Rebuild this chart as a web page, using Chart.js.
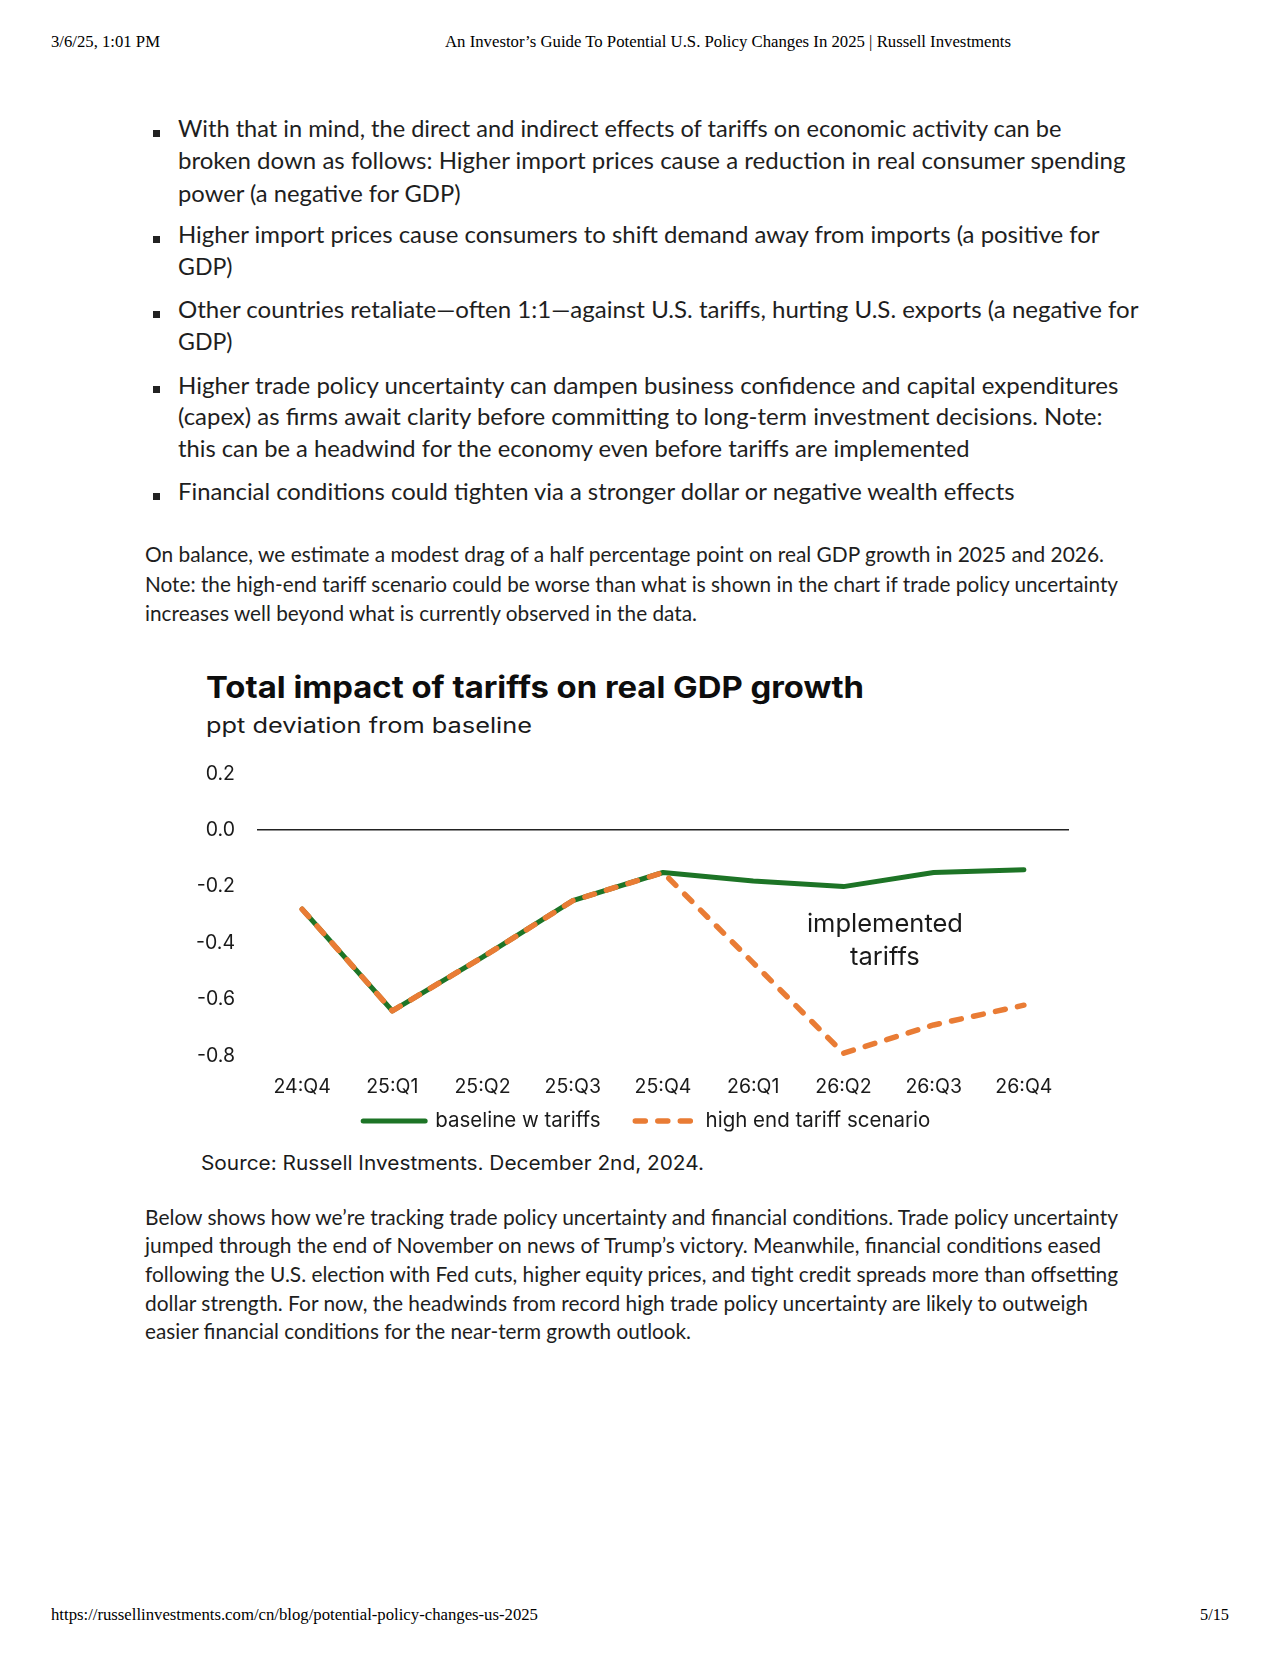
<!DOCTYPE html>
<html>
<head>
<meta charset="utf-8">
<script src="https://cdn.jsdelivr.net/npm/chart.js@4.4.1/dist/chart.umd.min.js"></script>
<style>
html,body{margin:0;padding:0;background:#fff;}
body{width:1280px;height:1656px;position:relative;overflow:hidden;}
.ln{position:absolute;white-space:nowrap;transform-origin:0 50%;}
.sq{position:absolute;width:7px;height:7px;background:#222;}
#wrap{position:absolute;left:180px;top:740px;width:910px;height:400px;}
</style>
</head>
<body>
<div id="wrap"><canvas id="c" width="910" height="400"></canvas></div>
<script>
// ---------- data ----------
const quarters = ['24:Q4','25:Q1','25:Q2','25:Q3','25:Q4','26:Q1','26:Q2','26:Q3','26:Q4'];
const baselineWithTariffs = [-0.28,-0.64,-0.45,-0.25,-0.15,-0.18,-0.20,-0.15,-0.14];
const highEndScenario     = [-0.28,-0.64,-0.45,-0.25,-0.15,-0.47,-0.79,-0.69,-0.62];
const seriesNames = ['baseline w tariffs','high end tariff scenario'];
const yMin = -0.8, yMax = 0.2, yStep = 0.2;
const noteLines = ['implemented','tariffs'];
const noteAt = {x: 6.46, y: -0.39};

// ---------- page text ----------
const fits = [];
function addLine(text, x, cy, w, font, size, weight, color, k){
  const d = document.createElement('div');
  d.className = 'ln';
  d.textContent = text;
  d.style.left = x + 'px';
  d.style.top = (cy - k*size).toFixed(1) + 'px';
  d.style.fontFamily = font;
  d.style.fontSize = size + 'px';
  d.style.fontWeight = weight;
  d.style.color = color;
  d.style.lineHeight = (size*1.2).toFixed(2) + 'px';
  document.body.appendChild(d);
  if (w) fits.push([d, w]);
  return d;
}
function fit(){
  fits.forEach(([d,w])=>{
    d.style.transform = 'none';
    const nat = d.getBoundingClientRect().width;
    d.style.transform = 'scaleX(' + (w/nat).toFixed(4) + ')';
  });
}
const SERIF = '"Liberation Serif", "DejaVu Serif", serif';
const BODYF = 'Lato, "Noto Sans", sans-serif';
const CHF = 'Inter, Roboto, sans-serif';

// header / footer
addLine('3/6/25, 1:01 PM', 50.5, 42.5, 109, SERIF, 16, 400, '#000', 0.6375);
addLine('An Investor\u2019s Guide To Potential U.S. Policy Changes In 2025 | Russell Investments', 445, 42.5, 566, SERIF, 16, 400, '#000', 0.6375);
addLine('https://russellinvestments.com/cn/blog/potential-policy-changes-us-2025', 50.5, 1615, 487, SERIF, 16, 400, '#000', 0.6375);
addLine('5/15', 1199.5, 1615, 29, SERIF, 16, 400, '#000', 0.6375);

// bullets
const bullets = [
  ['With that in mind, the direct and indirect effects of tariffs on economic activity can be', 130, 1061, true],
  ['broken down as follows: Higher import prices cause a reduction in real consumer spending', 162, 1125, false],
  ['power (a negative for GDP)', 195.5, 460, false],
  ['Higher import prices cause consumers to shift demand away from imports (a positive for', 236, 1099, true],
  ['GDP)', 268, 232, false],
  ['Other countries retaliate\u2014often 1:1\u2014against U.S. tariffs, hurting U.S. exports (a negative for', 311, 1138, true],
  ['GDP)', 343, 232, false],
  ['Higher trade policy uncertainty can dampen business confidence and capital expenditures', 386.6, 1118, true],
  ['(capex) as firms await clarity before committing to long-term investment decisions. Note:', 418, 1102, false],
  ['this can be a headwind for the economy even before tariffs are implemented', 450, 969, false],
  ['Financial conditions could tighten via a stronger dollar or negative wealth effects', 493.3, 1014, true]
];
bullets.forEach(([t, cy, right, sq])=>{
  addLine(t, 177.5, cy, right - 177.5, BODYF, 23, 400, '#1e1e1e', 0.657);
  if (sq){
    const s = document.createElement('div');
    s.className = 'sq';
    s.style.left = '152.5px';
    s.style.top = (cy + 3 - 3.5) + 'px';
    document.body.appendChild(s);
  }
});

// paragraphs
const para1 = [
  ['On balance, we estimate a modest drag of a half percentage point on real GDP growth in 2025 and 2026.', 555.5, 1104],
  ['Note: the high-end tariff scenario could be worse than what is shown in the chart if trade policy uncertainty', 585, 1118],
  ['increases well beyond what is currently observed in the data.', 614, 697]
];
const para2 = [
  ['Below shows how we\u2019re tracking trade policy uncertainty and financial conditions. Trade policy uncertainty', 1218, 1118],
  ['jumped through the end of November on news of Trump\u2019s victory. Meanwhile, financial conditions eased', 1246.5, 1101],
  ['following the U.S. election with Fed cuts, higher equity prices, and tight credit spreads more than offsetting', 1275.5, 1118],
  ['dollar strength. For now, the headwinds from record high trade policy uncertainty are likely to outweigh', 1304, 1088],
  ['easier financial conditions for the near-term growth outlook.', 1332.5, 691]
];
para1.concat(para2).forEach(([t, cy, right])=>{
  addLine(t, 145, cy, right - 145, BODYF, 20.5, 400, '#1e1e1e', 0.657);
});

// chart heading + source
addLine('Total impact of tariffs on real GDP growth', 206, 687, 658, CHF, 30, 700, '#0d0d0d', 0.603);
addLine('ppt deviation from baseline', 206, 725.8, 326, CHF, 21, 400, '#1a1a1a', 0.603);
addLine('Source: Russell Investments. December 2nd, 2024.', 201, 1164, 503, CHF, 19.5, 400, '#1a1a1a', 0.603);
fit();
if (document.fonts && document.fonts.ready) document.fonts.ready.then(fit);

// ---------- chart ----------
const GREEN = '#1d7426';
const ORANGE = '#e97c35';

const notePlugin = {
  id: 'note',
  afterDatasetsDraw(chart){
    const {ctx, scales:{x, y}} = chart;
    const px = x.getPixelForValue(noteAt.x);
    const py = y.getPixelForValue(noteAt.y);
    ctx.save();
    ctx.font = '400 25.5px ' + CHF;
    ctx.fillStyle = '#1a1a1a';
    ctx.textAlign = 'center';
    ctx.textBaseline = 'middle';
    const gap = 33;
    noteLines.forEach((t, i)=>{
      ctx.fillText(t, px, py + 1 + (i - (noteLines.length-1)/2)*gap);
    });
    ctx.restore();
  }
};

// legend drawn under the axis labels (line sample + text per dataset)
const legendPlugin = {
  id: 'lineLegend',
  afterDraw(chart){
    const {ctx, chartArea} = chart;
    const cy = chartArea.bottom + 65;
    const fontSize = 20.5;
    const sampleLen = [62, 55];
    const textGap = [7.5, 12.5];
    const itemGap = 32;
    ctx.save();
    ctx.font = '400 ' + fontSize + 'px ' + CHF;
    const items = chart.data.datasets.map((ds, i)=>{
      const cap = ds.borderWidth/2;
      const tw = ctx.measureText(ds.label).width;
      return {ds, len: sampleLen[i], cap, tw, gap: textGap[i],
              total: sampleLen[i] + 2*cap + textGap[i] + tw};
    });
    const totalW = items.reduce((s, it)=>s + it.total, 0) + itemGap*(items.length-1);
    let x = (chartArea.left + chartArea.right)/2 - 17.5 - totalW/2;
    items.forEach(it=>{
      const ds = it.ds;
      ctx.beginPath();
      ctx.lineWidth = ds.borderWidth;
      ctx.strokeStyle = ds.borderColor;
      ctx.lineCap = ds.borderCapStyle || 'butt';
      ctx.setLineDash(ds.borderDash || []);
      ctx.moveTo(x + it.cap, cy);
      ctx.lineTo(x + it.cap + it.len, cy);
      ctx.stroke();
      ctx.setLineDash([]);
      const tx = x + it.len + 2*it.cap + it.gap;
      ctx.fillStyle = '#1a1a1a';
      ctx.textAlign = 'left';
      ctx.textBaseline = 'middle';
      ctx.fillText(ds.label, tx, cy);
      x += it.total + itemGap;
    });
    ctx.restore();
  }
};

new Chart(document.getElementById('c'), {
  type: 'line',
  data: {
    labels: quarters,
    datasets: [
      {
        label: seriesNames[0],
        data: baselineWithTariffs,
        borderColor: GREEN,
        backgroundColor: GREEN,
        borderWidth: 5,
        borderCapStyle: 'round',
        borderJoinStyle: 'round',
        pointRadius: 0,
        tension: 0,
        order: 1
      },
      {
        label: seriesNames[1],
        data: highEndScenario,
        borderColor: ORANGE,
        backgroundColor: ORANGE,
        borderWidth: 5.5,
        borderDash: [10, 12.5],
        borderCapStyle: 'round',
        borderJoinStyle: 'round',
        pointRadius: 0,
        tension: 0,
        order: 0
      }
    ]
  },
  options: {
    responsive: false,
    animation: false,
    devicePixelRatio: 1,
    layout: {padding: {left: 0, right: 21, top: 33, bottom: 0}},
    plugins: {
      title: {display: false},
      tooltip: {enabled: false},
      legend: {display: false}
    },
    scales: {
      x: {
        offset: true,
        grid: {display: false, drawTicks: false},
        border: {display: false},
        ticks: {color: '#1a1a1a', font: {family: CHF, size: 19.5}, padding: 19, maxRotation: 0, autoSkip: false},
        afterFit(s){ s.height = 84; }
      },
      y: {
        min: yMin,
        max: yMax,
        border: {display: false},
        grid: {
          drawTicks: false,
          lineWidth: 1.5,
          color: (c) => (c.tick && Math.abs(c.tick.value) < 1e-9) ? '#222' : 'rgba(0,0,0,0)'
        },
        ticks: {
          stepSize: yStep,
          padding: 22,
          color: '#1a1a1a',
          font: {family: CHF, size: 19.5},
          callback: (v) => Number(v).toFixed(1)
        },
        afterFit(s){ s.width = 77; }
      }
    }
  },
  plugins: [notePlugin, legendPlugin]
});
</script>
</body>
</html>
